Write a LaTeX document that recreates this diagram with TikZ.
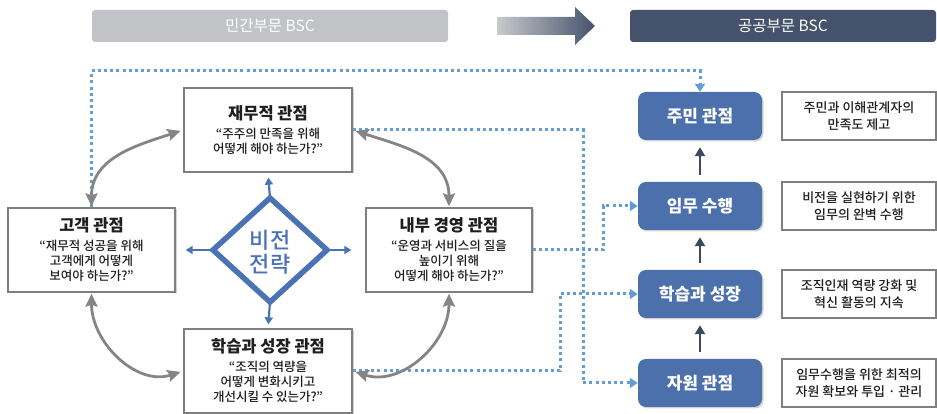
\documentclass[tikz,border=0pt]{standalone}
\usepackage{fontspec}
\setmainfont{Noto Sans CJK KR}
\newfontfamily\medfont{Noto Sans CJK KR}[UprightFont=* Medium]
\usetikzlibrary{arrows.meta,shadows,calc}
\definecolor{hgray}{HTML}{C2C3C6}
\definecolor{hdark}{HTML}{44536B}
\definecolor{boxgray}{HTML}{7F7F7F}
\definecolor{arcgray}{HTML}{858585}
\definecolor{vblue}{HTML}{4A72B4}
\definecolor{dotblue}{HTML}{649CD4}
\definecolor{rblue}{HTML}{4B70AC}
\definecolor{darr}{HTML}{3C4A60}
\definecolor{txt}{HTML}{1E1E1E}
\newcommand\ptitle[1]{{\fontsize{16.5}{19}\selectfont\bfseries #1}}
\begin{document}
\begin{tikzpicture}[x=1pt,y=1pt,
  hbox/.style={rounded corners=3pt, minimum height=32pt, inner sep=0pt, text=white, font=\fontsize{15.5}{17}\selectfont},
  pbox/.style={draw=boxgray, line width=1.3pt, fill=white, minimum width=168pt, minimum height=84pt, align=center, inner sep=0pt, text=txt,
    font=\medfont\fontsize{12.5}{15}\selectfont,
    drop shadow={shadow xshift=1.5pt, shadow yshift=-1.5pt, opacity=0.35}},
  rbox/.style={fill=rblue, rounded corners=8pt, minimum width=124pt, minimum height=48pt, inner sep=0pt, text=white,
    font=\bfseries\fontsize{17}{19}\selectfont, drop shadow={shadow xshift=1.5pt, shadow yshift=-1.5pt, opacity=0.35}},
  dbox/.style={draw=boxgray, line width=1.2pt, fill=white, minimum width=154pt, minimum height=48pt, inner sep=0pt, align=center, text=txt,
    font=\medfont\fontsize{13}{16.5}\selectfont, drop shadow={shadow xshift=1.5pt, shadow yshift=-1.5pt, opacity=0.3}},
  arcarrow/.style={draw=arcgray, line width=2.8pt, {Stealth[length=13pt,width=12pt,inset=2pt]}-{Stealth[length=13pt,width=12pt,inset=2pt]}},
  dotline/.style={draw=dotblue, line width=3pt, dash pattern=on 3pt off 3.2pt, -{Triangle[length=8pt,width=10pt]}},
  varrow/.style={draw=vblue, line width=2.2pt, -{Triangle[length=7pt,width=8pt]}},
  uparrow/.style={draw=darr, line width=2.8pt, -{Triangle[length=9pt,width=10pt]}, shorten <=7pt, shorten >=7pt}
]
\useasboundingbox (0,0) rectangle (937,414);

% header
\node[hbox, fill=hgray, minimum width=356pt] (hl) at (270,388) {민간부문 BSC};
\node[hbox, fill=hdark, minimum width=306pt] (hr) at (783,388) {공공부문 BSC};
\shade[left color=hgray!90, right color=hdark] (497,397) -- (575,397) -- (575,407) -- (595,388) -- (575,369) -- (575,379) -- (497,379) -- cycle;

% left boxes
\node[pbox] (fin) at (268,284) {\ptitle{재무적 관점}\\[4pt]“주주의 만족을 위해\\어떻게 해야 하는가?”};
\node[pbox, minimum width=167pt] (cust) at (91.5,164) {\ptitle{고객 관점}\\[4pt]“재무적 성공을 위해\\고객에게 어떻게\\보여야 하는가?”};
\node[pbox, minimum width=166pt] (intp) at (449,164) {\ptitle{내부 경영 관점}\\[4pt]“운영과 서비스의 질을\\높이기 위해\\어떻게 해야 하는가?”};
\node[pbox] (learn) at (268,43) {\ptitle{학습과 성장 관점}\\[4pt]“조직의 역량을\\어떻게 변화시키고\\개선시킬 수 있는가?”};

% right boxes
\node[rbox] (res) at (700,298) {주민 관점};
\node[rbox] (mis) at (700,208) {임무 수행};
\node[rbox] (lg) at (700,120) {학습과 성장};
\node[rbox] (rs) at (700,31) {자원 관점};
\node[dbox] (d1) at (859,298) {주민과 이해관계자의\\만족도 제고};
\node[dbox] (d2) at (859,208) {비전을 실현하기 위한\\임무의 완벽 수행};
\node[dbox] (d3) at (859,120) {조직인재 역량 강화 및\\혁신 활동의 지속};
\node[dbox] (d4) at (859,31) {임무수행을 위한 최적의\\자원 확보와 투입 · 관리};

\draw[uparrow] (mis.north) -- (res.south);
\draw[uparrow] (lg.north) -- (mis.south);
\draw[uparrow] (rs.north) -- (lg.south);

% dotted connectors
\coordinate (b1) at (700,343);
\coordinate (b2) at (583,284);
\coordinate (b3) at (603,164);
\coordinate (b4) at (560,43);
\draw[dotline] (cust.north) |- (b1) -- (res.north);
\draw[dotline] (fin.east) -- (b2) |- (rs.west);
\draw[dotline] (intp.east) -- (b3) |- (mis.west);
\draw[dotline] (learn.east) -- (b4) |- (lg.west);

% gray arcs
\draw[arcarrow, shorten >=1pt, shorten <=3pt] (fin.west) to[out=198, in=90, looseness=1.05] (cust.north);
\draw[arcarrow, shorten >=1pt, shorten <=3pt] (fin.east) to[out=-18, in=90, looseness=1.05] (intp.north);
\draw[arcarrow, shorten >=3pt, shorten <=1pt] (cust.south) to[out=270, in=198, looseness=1.05] (learn.west);
\draw[arcarrow, shorten >=3pt, shorten <=1pt] (intp.south) to[out=270, in=-18, looseness=1.05] (learn.east);

% vision diamond
\coordinate (dt) at (270,216);
\coordinate (dr) at (327,164);
\coordinate (db) at (270,112);
\coordinate (dl) at (213,164);
\draw[vblue, line width=5.5pt, line join=miter] (dt) -- (dr) -- (db) -- (dl) -- cycle;
\node[align=center, text=vblue, font=\medfont\fontsize{22}{24}\selectfont] (vis) at (270,162) {비전\\전략};
\draw[varrow, shorten >=5pt] (dt) -- (fin.south);
\draw[varrow, shorten >=10pt] (dl) -- (cust.east);
\draw[varrow, shorten >=14pt] (dr) -- (intp.west);
\draw[varrow, shorten >=4pt] (db) -- (learn.north);
\end{tikzpicture}
\end{document}
